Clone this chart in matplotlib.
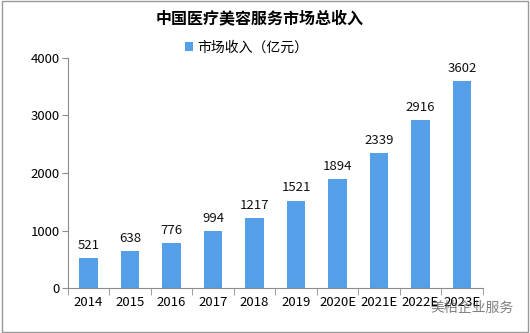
import numpy as np
import matplotlib
matplotlib.use('Agg')
import matplotlib.pyplot as plt
from matplotlib.patches import Rectangle

plt.rcParams['font.family'] = ['Noto Sans CJK SC', 'DejaVu Sans']

# data
years = ['2014', '2015', '2016', '2017', '2018', '2019', '2020E', '2021E', '2022E', '2023E']
revenue = [521, 638, 776, 994, 1217, 1521, 1894, 2339, 2916, 3602]
title = '中国医疗美容服务市场总收入'
series_name = '市场收入（亿元）'

bar_color = '#559FE8'
axis_gray = '#8c8c8c'

fig = plt.figure(figsize=(5.3, 3.33), dpi=100)
ax = fig.add_axes([0.128, 0.135, 0.783, 0.691])

x = np.arange(len(years))
bars = ax.bar(x, revenue, width=0.44, color=bar_color, label=series_name)
for xi, v in zip(x, revenue):
    ax.text(xi, v + 110, str(v), ha='center', va='bottom', fontsize=9.5, color='#111111')

ax.set_xlim(-0.5, len(years) - 0.5)
ax.set_ylim(0, 4000)
ax.set_yticks([0, 1000, 2000, 3000, 4000])
ax.tick_params(axis='y', length=4, color=axis_gray, labelsize=9.5, pad=2)
ax.set_xticks(x)
ax.set_xticklabels(years)
ax.tick_params(axis='x', which='major', length=0, labelsize=9.5, pad=6)
ax.set_xticks(np.arange(-0.5, len(years)), minor=True)
ax.tick_params(axis='x', which='minor', length=5, color=axis_gray)
for s in ['top', 'right']:
    ax.spines[s].set_visible(False)
for s in ['left', 'bottom']:
    ax.spines[s].set_color(axis_gray)

fig.text(0.49, 0.945, title, ha='center', va='center', fontsize=11.5, fontweight='bold')
fig.legend(handles=[bars], labels=[series_name], loc='center', bbox_to_anchor=(0.465, 0.858),
           frameon=False, fontsize=10, handlelength=0.6, handleheight=0.6, handletextpad=0.3)

# outer frame
fig.patches.append(Rectangle((0.003, 0.003), 0.994, 0.994, transform=fig.transFigure,
                             fill=False, edgecolor='#999999', linewidth=1))

# watermark
fig.text(0.97, 0.075, '美柏企业服务', ha='right', va='center', fontsize=10, color='#555555', alpha=0.75)

fig.savefig('out.png', dpi=100)
